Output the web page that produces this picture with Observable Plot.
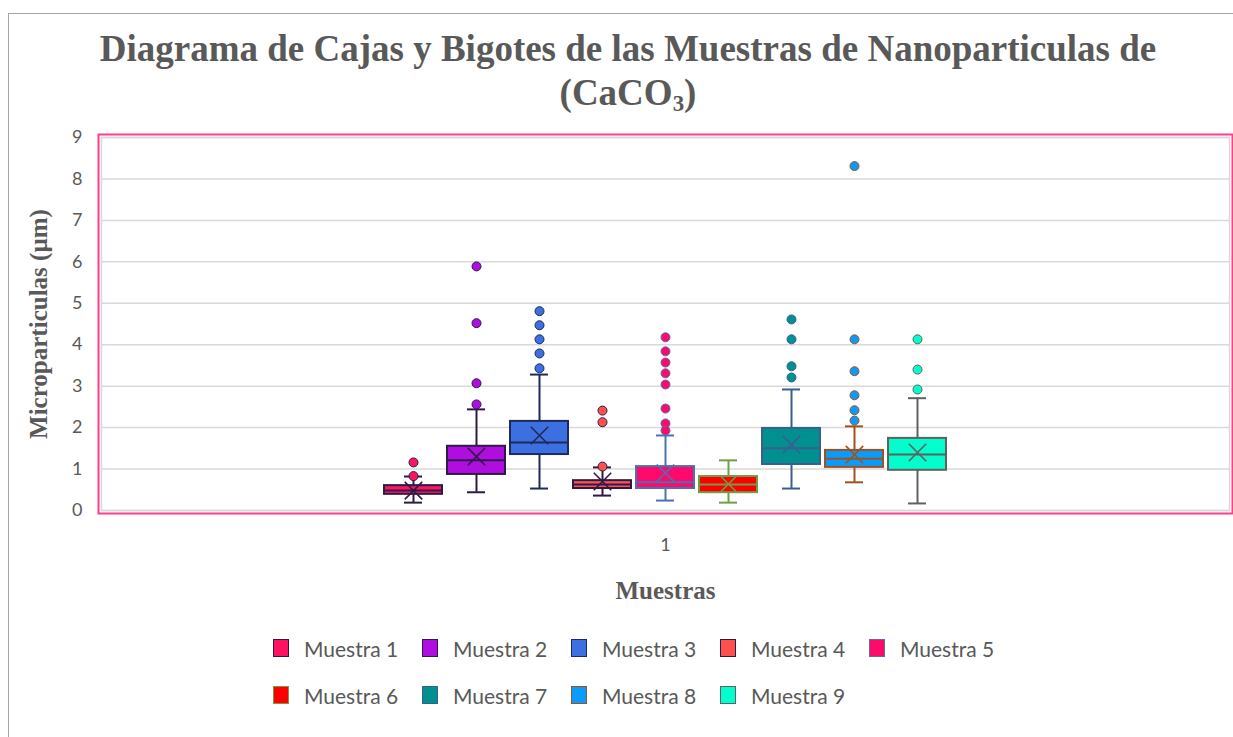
<!DOCTYPE html>
<html><head><meta charset="utf-8">
<script src="https://cdn.jsdelivr.net/npm/d3@7"></script>
<script src="https://cdn.jsdelivr.net/npm/@observablehq/plot@0.6"></script>
<style>
body{margin:0;background:#fff;overflow:hidden}
#wrap{position:relative;width:1233px;height:737px;overflow:hidden;background:#fff}
#borde{position:absolute;left:8px;top:13px;width:1240px;height:740px;border:1.5px solid #a6a6a6;box-sizing:border-box}
#titulo{position:absolute;left:28px;width:1200px;top:27px;text-align:center;font:bold 37px "Liberation Serif";color:#595959;line-height:44px;white-space:nowrap}
#titulo sub{font-size:0.62em;line-height:0;vertical-align:-0.25em}
#chart{position:absolute;left:0;top:0}
#leyenda{position:absolute;left:273px;top:636px;display:grid;grid-template-columns:repeat(5,149px);row-gap:23px}
.item{display:flex;align-items:center;height:24px;font:21px Lato;color:#595959;white-space:nowrap}
.sw{width:16px;height:18px;box-sizing:border-box;border:1.5px solid;margin-right:15px}
</style>
</head><body>
<div id="wrap">
  <div id="borde"></div>
  <div id="chart"></div>
  <div id="titulo">Diagrama de Cajas y Bigotes de las Muestras de Nanoparticulas de<br>(CaCO<sub>3</sub>)</div>
  <div id="leyenda"></div>
</div>
<script>
// ---- data ----
const muestras = ["Muestra 1","Muestra 2","Muestra 3","Muestra 4","Muestra 5","Muestra 6","Muestra 7","Muestra 8","Muestra 9"];
const q1        = [0.39, 0.87, 1.35, 0.53, 0.53, 0.43, 1.11, 1.04, 0.97];
const mediana   = [0.48, 1.21, 1.64, 0.63, 0.68, 0.63, 1.50, 1.25, 1.35];
const q3        = [0.60, 1.55, 2.15, 0.72, 1.06, 0.82, 1.98, 1.45, 1.74];
const bigoteInf = [0.19, 0.44, 0.53, 0.36, 0.24, 0.19, 0.53, 0.68, 0.17];
const bigoteSup = [0.82, 2.44, 3.28, 1.04, 1.81, 1.21, 2.92, 2.03, 2.71];
const media     = [0.48, 1.30, 1.81, 0.70, 0.90, 0.64, 1.59, 1.35, 1.40];
const atipicos = [
  [1.16, 0.83],
  [5.89, 4.52, 3.07, 2.56],
  [4.81, 4.47, 4.13, 3.79, 3.43],
  [2.41, 2.13, 1.06],
  [4.18, 3.84, 3.57, 3.31, 3.04, 2.46, 2.10, 1.93],
  [],
  [4.61, 4.13, 3.48, 3.21],
  [8.31, 4.13, 3.36, 2.78, 2.42, 2.17],
  [4.13, 3.40, 2.92]
];
const grupo = ["1"];
const yTicks = [0,1,2,3,4,5,6,7,8,9];
const tituloY = "Microparticulas (µm)";
const tituloX = "Muestras";
// ---- palette ----
const rellenos = ["#ff1464","#b00ee0","#3c6fe0","#ff5050","#ff0a6c","#ff0000","#009090","#0a9bff","#00ffcc"];
const bordes   = ["#2e1a47","#2e1a47","#1f2a5c","#2e1a47","#4a72b0","#6f9f45","#3a5f8f","#a0521c","#606060"];

const tabla = muestras.map((m,i)=>({muestra:m, grupo:grupo[0], q1:q1[i], mediana:mediana[i], q3:q3[i],
  bigoteInf:bigoteInf[i], bigoteSup:bigoteSup[i], media:media[i], relleno:rellenos[i], borde:bordes[i]}));
const puntos = muestras.flatMap((m,i)=>atipicos[i].map(v=>({muestra:m, grupo:grupo[0], valor:v, relleno:rellenos[i], borde:bordes[i]})));

const sans = "Lato", serif = "Liberation Serif", gris = "#595959";
const chart = Plot.plot({
  width:1233, height:612, marginTop:137, marginBottom:102, marginLeft:101, marginRight:4,
  style:{background:"transparent", overflow:"visible"},
  fx:{domain:grupo, padding:0, label:null},
  x:{domain:muestras, paddingInner:0.08, paddingOuter:4.48, axis:null},
  y:{domain:[0,9], label:null},
  marks:[
    Plot.gridY(yTicks, {stroke:"#d9d9d9", strokeOpacity:1, strokeWidth:1.5}),
    Plot.frame({stroke:"#d9d9d9", strokeWidth:1.5}),
    Plot.frame({stroke:"#ff3d8b", strokeWidth:2, inset:-3}),
    Plot.axisY(yTicks, {tickSize:0, tickPadding:19, fontSize:18, fontFamily:sans, fill:gris, label:null}),
    Plot.axisFx({anchor:"bottom", tickSize:0, tickPadding:28, fontSize:18, fontFamily:sans, fill:gris, label:null}),
    Plot.ruleX(tabla, {x:"muestra", fx:"grupo", y1:"bigoteInf", y2:"bigoteSup", stroke:"borde", strokeWidth:2}),
    Plot.tickY(tabla, {x:"muestra", fx:"grupo", y:"bigoteInf", stroke:"borde", strokeWidth:2, insetLeft:20, insetRight:20}),
    Plot.tickY(tabla, {x:"muestra", fx:"grupo", y:"bigoteSup", stroke:"borde", strokeWidth:2, insetLeft:20, insetRight:20}),
    Plot.barY(tabla, {x:"muestra", fx:"grupo", y1:"q1", y2:"q3", fill:"relleno", stroke:"borde", strokeWidth:2}),
    Plot.tickY(tabla, {x:"muestra", fx:"grupo", y:"mediana", stroke:"borde", strokeWidth:2}),
    Plot.dot(tabla, {x:"muestra", fx:"grupo", y:"media", symbol:"times", r:8, stroke:"borde", strokeWidth:1.6}),
    Plot.dot(puntos, {x:"muestra", fx:"grupo", y:"valor", r:4.5, fill:"relleno", stroke:"borde", strokeWidth:1}),
    Plot.text([tituloY], {text:d=>d, frameAnchor:"left", textAnchor:"middle", lineAnchor:"middle", rotate:-90, dx:-63, fontSize:25, fontWeight:"bold", fontFamily:serif, fill:gris}),
    Plot.text([tituloX], {text:d=>d, frameAnchor:"bottom", lineAnchor:"middle", dy:80, fontSize:25, fontWeight:"bold", fontFamily:serif, fill:gris})
  ]
});
document.getElementById("chart").appendChild(chart);

const ley = document.getElementById("leyenda");
muestras.forEach((m,i)=>{
  const it = document.createElement("div"); it.className="item";
  const sw = document.createElement("span"); sw.className="sw";
  sw.style.background = rellenos[i]; sw.style.borderColor = bordes[i];
  it.appendChild(sw); it.appendChild(document.createTextNode(m));
  ley.appendChild(it);
});
</script>
</body></html>
